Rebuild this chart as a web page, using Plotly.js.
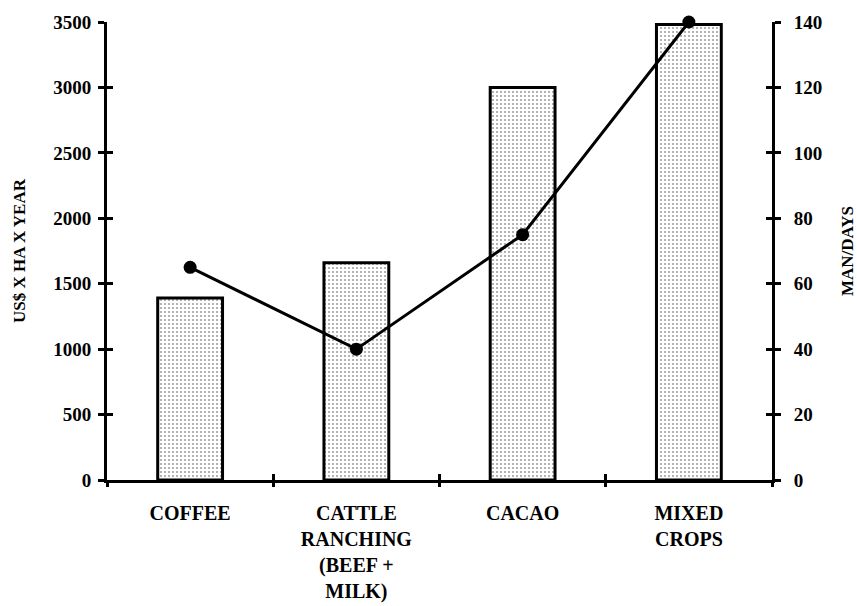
<!DOCTYPE html>
<html>
<head>
<meta charset="utf-8">
<script src="https://cdn.plot.ly/plotly-3.0.1.min.js"></script>
<style>html,body{margin:0;padding:0;background:#fff;}#chart{width:857px;height:606px;}</style>
</head>
<body>
<div id="chart"></div>
<script>
// Data
const categories = ["COFFEE", "CATTLE<br>RANCHING<br>(BEEF +<br>MILK)", "CACAO", "MIXED<br>CROPS"];
const incomeUSD = [1390, 1660, 3000, 3480];      // US$ x ha x year (bars, left axis)
const manDays = [65, 40, 75, 140];                // man/days (line, right axis)
const leftTicks = [0, 500, 1000, 1500, 2000, 2500, 3000, 3500];
const rightTicks = [0, 20, 40, 60, 80, 100, 120, 140];
const boundaryTicks = [-0.5, 0.5, 1.5, 2.5, 3.5];

const serif = "Liberation Serif, Times New Roman, serif";

const traces = [
  {
    type: "bar", x: [0, 1, 2, 3], y: incomeUSD, xaxis: "x", yaxis: "y",
    width: 0.39,
    marker: {
      color: "#ffffff",
      line: {color: "#000", width: 3},
      pattern: {shape: ".", fgcolor: "#9a9a9a", bgcolor: "#ffffff", size: 4, solidity: 0.2}
    },
    hoverinfo: "skip", showlegend: false
  },
  {
    type: "scatter", mode: "lines+markers", x: [0, 1, 2, 3], y: manDays, xaxis: "x", yaxis: "y2",
    line: {color: "#000", width: 3},
    marker: {color: "#000", size: 13},
    cliponaxis: false,
    hoverinfo: "skip", showlegend: false
  },
  // invisible helper traces so the tick-only overlay axes are drawn
  {type: "scatter", mode: "none", x: [0], y: [0], xaxis: "x2", yaxis: "y", showlegend: false, hoverinfo: "skip"},
  {type: "scatter", mode: "none", x: [0], y: [0], xaxis: "x3", yaxis: "y", showlegend: false, hoverinfo: "skip"},
  {type: "scatter", mode: "none", x: [0], y: [0], xaxis: "x", yaxis: "y3", showlegend: false, hoverinfo: "skip"},
  {type: "scatter", mode: "none", x: [0], y: [0], xaxis: "x", yaxis: "y4", showlegend: false, hoverinfo: "skip"}
];

const tickFont = {family: serif, size: 19, color: "#000", weight: "bold"};
const axisTitleFont = {family: serif, size: 17, color: "#000", weight: "bold"};

const layout = {
  width: 857, height: 606,
  margin: {l: 107, r: 85, t: 22, b: 126},
  paper_bgcolor: "#fff", plot_bgcolor: "#fff",
  showlegend: false,
  xaxis: {
    range: [-0.5, 3.5],
    tickmode: "array", tickvals: [0, 1, 2, 3], ticktext: categories,
    ticks: "", showgrid: false, zeroline: false,
    showline: true, linecolor: "#000", linewidth: 3,
    tickfont: {family: serif, size: 20, color: "#000", weight: "bold"},
    ticklabelstandoff: 13,
    fixedrange: true
  },
  xaxis2: {
    overlaying: "x", range: [-0.5, 3.5], anchor: "y", side: "bottom",
    tickmode: "array", tickvals: boundaryTicks,
    ticks: "outside", ticklen: 6, tickwidth: 3, tickcolor: "#000",
    showticklabels: false, showgrid: false, zeroline: false, showline: false, fixedrange: true
  },
  xaxis3: {
    overlaying: "x", range: [-0.5, 3.5], anchor: "y", side: "bottom",
    tickmode: "array", tickvals: boundaryTicks,
    ticks: "inside", ticklen: 6, tickwidth: 3, tickcolor: "#000",
    showticklabels: false, showgrid: false, zeroline: false, showline: false, fixedrange: true
  },
  yaxis: {
    range: [0, 3500],
    tickmode: "array", tickvals: leftTicks,
    ticks: "outside", ticklen: 6, tickwidth: 3, tickcolor: "#000",
    showgrid: false, zeroline: false,
    showline: true, linecolor: "#000", linewidth: 3,
    tickfont: tickFont, ticklabelstandoff: 3,
    title: {text: "US$ X HA X YEAR", font: axisTitleFont, standoff: 24},
    fixedrange: true
  },
  yaxis2: {
    range: [0, 140], overlaying: "y", side: "right", anchor: "x",
    tickmode: "array", tickvals: rightTicks,
    ticks: "outside", ticklen: 6, tickwidth: 3, tickcolor: "#000",
    showgrid: false, zeroline: false,
    showline: true, linecolor: "#000", linewidth: 3,
    tickfont: tickFont, ticklabelstandoff: 9,
    title: {text: "MAN/DAYS", font: axisTitleFont, standoff: 22},
    fixedrange: true
  },
  yaxis3: {
    range: [0, 3500], overlaying: "y", side: "left", anchor: "x",
    tickmode: "array", tickvals: leftTicks,
    ticks: "inside", ticklen: 6, tickwidth: 3, tickcolor: "#000",
    showticklabels: false, showgrid: false, zeroline: false, showline: false, fixedrange: true
  },
  yaxis4: {
    range: [0, 140], overlaying: "y", side: "right", anchor: "x",
    tickmode: "array", tickvals: rightTicks,
    ticks: "inside", ticklen: 6, tickwidth: 3, tickcolor: "#000",
    showticklabels: false, showgrid: false, zeroline: false, showline: false, fixedrange: true
  }
};

Plotly.newPlot("chart", traces, layout, {staticPlot: true, displayModeBar: false});
</script>
</body>
</html>
